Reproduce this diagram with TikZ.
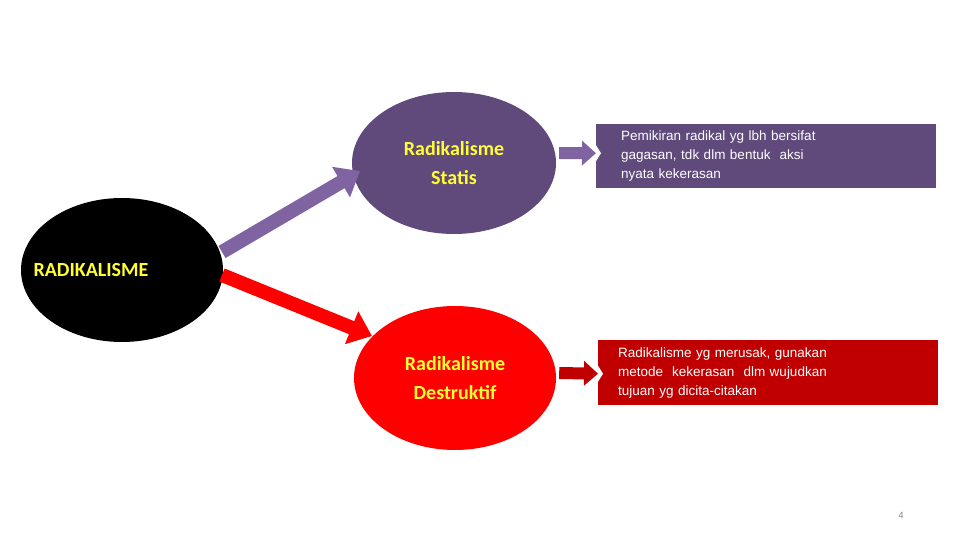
\documentclass[tikz,border=0pt]{standalone}
\usepackage{fontspec}
\setmainfont{Liberation Sans}
\newfontfamily\calfont{Carlito}
\usetikzlibrary{shapes.geometric,arrows.meta,calc}
\definecolor{purp}{HTML}{604A7B}
\definecolor{lpurp}{HTML}{8064A2}
\definecolor{dred}{HTML}{C00000}
\definecolor{yel}{HTML}{FFFF33}
\tikzset{
 ell/.style={ellipse,inner sep=0pt,font=\calfont\bfseries\fontsize{20}{29}\selectfont,text=yel,align=center},
 box/.style={rectangle,inner sep=0pt,text=white,font=\fontsize{13.5}{19}\selectfont,align=left},
 bigarrow/.style={line width=14pt,-{Triangle[length=22pt,width=34pt]}},
 smallarrow/.style={line width=12pt,-{Triangle[length=14pt,width=24pt]}}
}
\begin{document}
\begin{tikzpicture}[x=1pt,y=-1pt]
\useasboundingbox (0,0) rectangle (960,540);
\node[ell,fill=black,minimum width=202pt,minimum height=144pt] (r) at (122,270) {};
\node[anchor=west,font=\calfont\bfseries\fontsize{20}{24}\selectfont,text=yel] (rt) at (30,270) {RADIKALISME};
\node[ell,fill=purp,minimum width=204pt,minimum height=142pt] (s) at (454,163) {Radikalisme\\Statis};
\node[ell,fill=red,minimum width=202pt,minimum height=144pt] (d) at (455,378) {Radikalisme\\Destruktif};
\node[box,fill=purp,minimum width=340pt,minimum height=64pt,text width=290pt,inner xsep=25pt,anchor=north west] (bs) at (596,124)
 {Pemikiran radikal yg lbh bersifat\\gagasan, tdk dlm bentuk\ \ aksi\\nyata kekerasan};
\node[box,fill=dred,minimum width=340pt,minimum height=65pt,text width=300pt,inner xsep=20pt,anchor=north west] (bd) at (598,340)
 {Radikalisme yg merusak, gunakan\\metode\ \ kekerasan\ \ dlm wujudkan\\tujuan yg dicita-citakan};
\coordinate (a1) at (222,252); \coordinate (a2) at (360,171);
\coordinate (b1) at (222,275); \coordinate (b2) at (372,336);
\draw[bigarrow,lpurp] (a1) -- (a2);
\draw[bigarrow,red] (b1) -- (b2);
\draw[smallarrow,lpurp] ($(s.east)+(3,-10)$) -- ($(bs.west)+(0,-3)$);
\draw[smallarrow,dred] ($(d.east)+(3,-5)$) -- ($(bd.west)+(0,1)$);
\fill[white] ($(bs.west)+(0,-11)$) -- ++(5,8) -- ++(-5,8) -- cycle;
\fill[white] ($(bd.west)+(0,-7)$) -- ++(5,8) -- ++(-5,8) -- cycle;
\node[font=\fontsize{9}{10}\selectfont,text=gray] (pg) at (901,515) {4};
\end{tikzpicture}
\end{document}
